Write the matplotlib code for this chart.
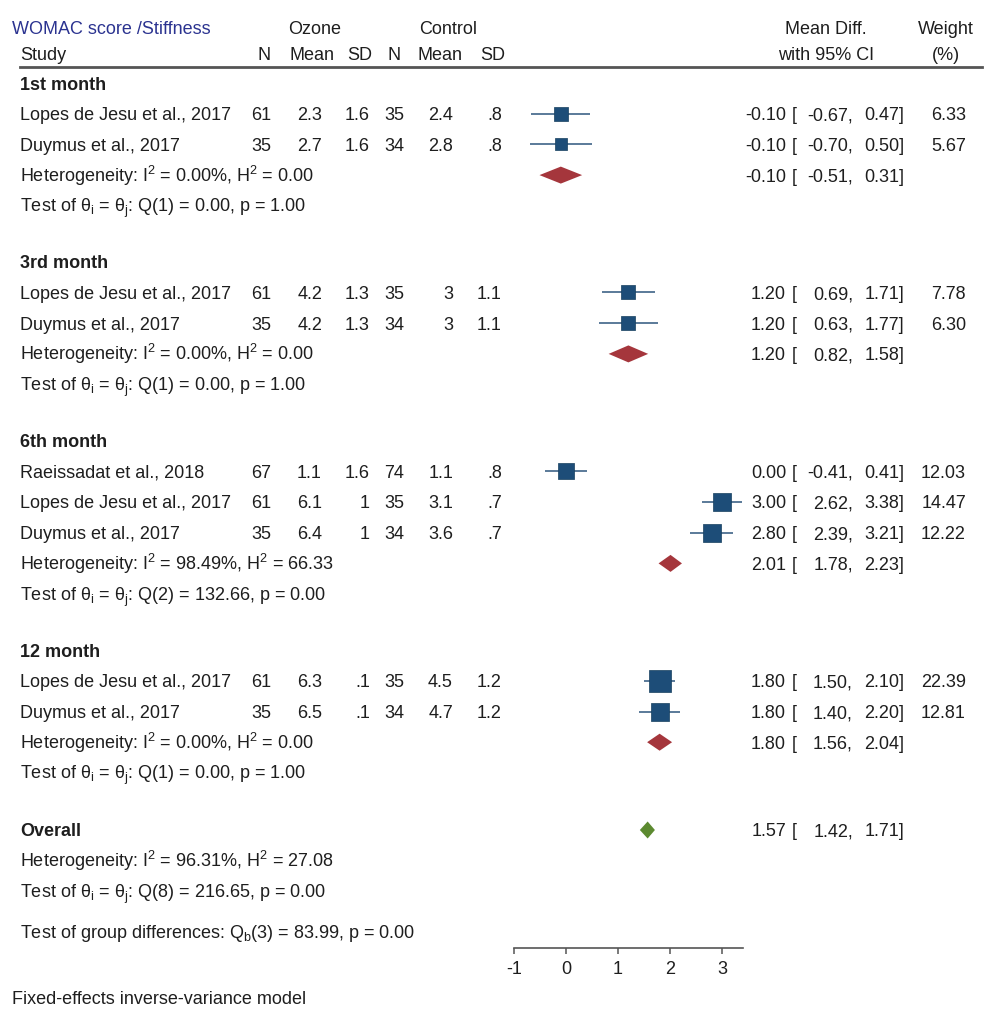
import matplotlib
matplotlib.use("Agg")
import matplotlib.pyplot as plt

plt.rcParams['font.family'] = ['Liberation Sans', 'DejaVu Sans']
plt.rcParams['mathtext.fontset'] = 'custom'
plt.rcParams['mathtext.rm'] = 'Liberation Sans'
plt.rcParams['mathtext.it'] = 'Liberation Sans:italic'
plt.rcParams['axes.unicode_minus'] = False

# ---------------- data ----------------
title = "WOMAC score /Stiffness"
group_names = ["1st month", "3rd month", "6th month", "12 month"]

study_names = ["Lopes de Jesu et al., 2017", "Duymus et al., 2017",
               "Lopes de Jesu et al., 2017", "Duymus et al., 2017",
               "Raeissadat et al., 2018", "Lopes de Jesu et al., 2017", "Duymus et al., 2017",
               "Lopes de Jesu et al., 2017", "Duymus et al., 2017"]
study_group = [0, 0, 1, 1, 2, 2, 2, 3, 3]
oz_n = [61, 35, 61, 35, 67, 61, 35, 61, 35]
oz_mean = [2.3, 2.7, 4.2, 4.2, 1.1, 6.1, 6.4, 6.3, 6.5]
oz_sd = [1.6, 1.6, 1.3, 1.3, 1.6, 1, 1, 0.1, 0.1]
ct_n = [35, 34, 35, 34, 74, 35, 34, 35, 34]
ct_mean = [2.4, 2.8, 3, 3, 1.1, 3.1, 3.6, 4.5, 4.7]
ct_sd = [0.8, 0.8, 1.1, 1.1, 0.8, 0.7, 0.7, 1.2, 1.2]
md = [-0.10, -0.10, 1.20, 1.20, 0.00, 3.00, 2.80, 1.80, 1.80]
ci_lo = [-0.67, -0.70, 0.69, 0.63, -0.41, 2.62, 2.39, 1.50, 1.40]
ci_hi = [0.47, 0.50, 1.71, 1.77, 0.41, 3.38, 3.21, 2.10, 2.20]
weight = [6.33, 5.67, 7.78, 6.30, 12.03, 14.47, 12.22, 22.39, 12.81]

group_md = [-0.10, 1.20, 2.01, 1.80]
group_lo = [-0.51, 0.82, 1.78, 1.56]
group_hi = [0.31, 1.58, 2.23, 2.04]
group_I2 = [0.00, 0.00, 98.49, 0.00]
group_H2 = [0.00, 0.00, 66.33, 0.00]
group_Qdf = [1, 1, 2, 1]
group_Q = [0.00, 0.00, 132.66, 0.00]
group_p = [1.00, 1.00, 0.00, 1.00]

overall_md, overall_lo, overall_hi = 1.57, 1.42, 1.71
overall_I2, overall_H2 = 96.31, 27.08
overall_Qdf, overall_Q, overall_p = 8, 216.65, 0.00
groupdiff_df, groupdiff_Q, groupdiff_p = 3, 83.99, 0.00

axis_ticks = [-1, 0, 1, 2, 3]

# ---------------- styling ----------------
W, H = 1000, 1016
FS = 13
TXT = '#1e1e1e'
NAVY = '#2b3390'
SQ = '#1d4d78'
CI_C = '#4d6f91'
RED = '#a5363c'
GREEN = '#5c8a30'


def g(v):
    s = format(v, 'g')
    if s.startswith('0.'):
        s = s[1:]
    return s


fig = plt.figure(figsize=(W / 100, H / 100), dpi=100)
bg = fig.add_axes([0, 0, 1, 1])
bg.set_xlim(0, W)
bg.set_ylim(H, 0)
bg.axis('off')

ax_top, ax_bot = 60, 948
ax = fig.add_axes([514 / W, (H - ax_bot) / H, 4.4 * 52 / W, (ax_bot - ax_top) / H])
ax.patch.set_alpha(0)
ax.set_xlim(-1, 3.4)
ax.set_ylim(ax_bot, ax_top)
for s in ['left', 'right', 'top']:
    ax.spines[s].set_visible(False)
ax.spines['bottom'].set_color('#555555')
ax.spines['bottom'].set_linewidth(1.2)
ax.set_yticks([])
ax.set_xticks(axis_ticks)
ax.set_xticklabels([str(t) for t in axis_ticks])
ax.tick_params(axis='x', direction='out', length=4, width=1.1, color='#555555',
               labelsize=FS, labelcolor=TXT, pad=5)


def t(x, y, s, ha='left', **kw):
    kw.setdefault('color', TXT)
    kw.setdefault('fontsize', FS)
    bg.text(x, y + 6.5, s, ha=ha, va='baseline', **kw)


SUP2 = r"$\mathregular{^{2}}$"

# headers
t(12, 27, title, color=NAVY)
t(315, 27, "Ozone", ha='center')
t(448, 27, "Control", ha='center')
t(826, 27, "Mean Diff.", ha='center')
t(946, 27, "Weight", ha='center')
t(20, 53, "Study")
t(271, 53, "N", ha='right')
t(312, 53, "Mean", ha='center')
t(372, 53, "SD", ha='right')
t(401, 53, "N", ha='right')
t(440, 53, "Mean", ha='center')
t(505, 53, "SD", ha='right')
t(826, 53, "with 95% CI", ha='center')
t(946, 53, "(%)", ha='center')
bg.plot([20, 982], [67, 67], color='#555555', lw=2)


def ci_text(y, m, lo, hi, w=None):
    t(786, y, f"{m:.2f}", ha='right')
    t(792, y, "[")
    t(853, y, f"{lo:.2f},", ha='right')
    t(904, y, f"{hi:.2f}]", ha='right')
    if w is not None:
        t(966, y, f"{w:.2f}", ha='right')


def diamond(y, m, lo, hi, color, h=8.5):
    ax.fill([lo, m, hi, m], [y, y - h, y, y + h], color=color, lw=0, clip_on=False)


def het(I2, H2):
    return f"Heterogeneity: I{SUP2} = {I2:.2f}%, H{SUP2} = {H2:.2f}"


def qtest(df, Q, p):
    return (r"Test of $\mathregular{θ_i}$ = $\mathregular{θ_j}$: "
            f"Q({df}) = {Q:.2f}, p = {p:.2f}")


step = 30.7
y = 83
for gi, gname in enumerate(group_names):
    t(20, y, gname, fontweight='bold')
    for i in range(len(study_names)):
        if study_group[i] != gi:
            continue
        y += step
        t(20, y, study_names[i])
        t(271, y, str(oz_n[i]), ha='right')
        t(322, y, g(oz_mean[i]), ha='right')
        t(370, y, g(oz_sd[i]), ha='right')
        t(404, y, str(ct_n[i]), ha='right')
        t(453, y, g(ct_mean[i]), ha='right')
        t(502, y, g(ct_sd[i]), ha='right')
        ax.hlines(y, ci_lo[i], ci_hi[i], color=CI_C, lw=1.3, clip_on=False)
        side_px = 3.8 * weight[i] ** 0.5 + 3.8
        ax.scatter([md[i]], [y], marker='s', s=(side_px * 0.72) ** 2, color=SQ,
                   edgecolor='#17405f', linewidth=0.5, zorder=3, clip_on=False)
        ci_text(y, md[i], ci_lo[i], ci_hi[i], weight[i])
    y += step
    t(20, y, het(group_I2[gi], group_H2[gi]))
    diamond(y, group_md[gi], group_lo[gi], group_hi[gi], RED)
    ci_text(y, group_md[gi], group_lo[gi], group_hi[gi])
    y += step
    t(20, y, qtest(group_Qdf[gi], group_Q[gi], group_p[gi]))
    y += 56

y = 830
t(20, y, "Overall", fontweight='bold')
diamond(y, overall_md, overall_lo, overall_hi, GREEN)
ci_text(y, overall_md, overall_lo, overall_hi)
y += step
t(20, y, het(overall_I2, overall_H2))
y += step
t(20, y, qtest(overall_Qdf, overall_Q, overall_p))
t(20, 932, r"Test of group differences: $\mathregular{Q_b}$"
           f"({groupdiff_df}) = {groupdiff_Q:.2f}, p = {groupdiff_p:.2f}")

t(12, 997, "Fixed-effects inverse-variance model")

fig.savefig("out.png", dpi=100)
